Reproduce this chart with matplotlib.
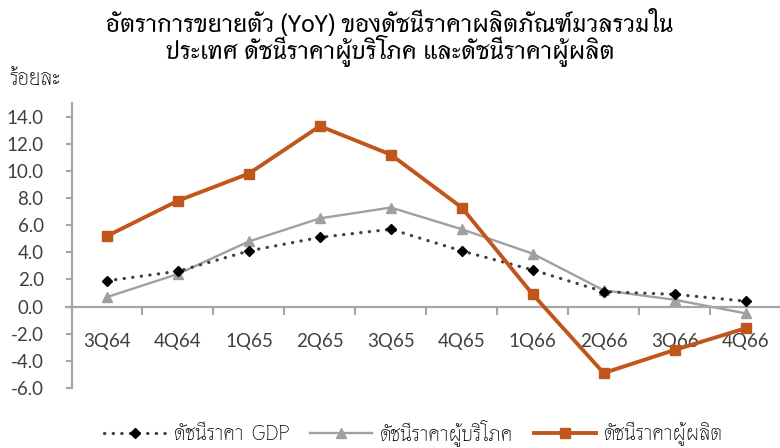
import numpy as np
import matplotlib
matplotlib.use('Agg')
import matplotlib.pyplot as plt

quarters = ['3Q64', '4Q64', '1Q65', '2Q65', '3Q65', '4Q65', '1Q66', '2Q66', '3Q66', '4Q66']
gdp_deflator = [1.9, 2.6, 4.1, 5.1, 5.7, 4.1, 2.7, 1.1, 0.9, 0.4]
cpi = [0.7, 2.4, 4.8, 6.5, 7.3, 5.7, 3.9, 1.2, 0.5, -0.5]
ppi = [5.2, 7.8, 9.8, 13.3, 11.2, 7.3, 0.9, -4.9, -3.2, -1.6]
y_ticks = [-6, -4, -2, 0, 2, 4, 6, 8, 10, 12, 14]

THAI = ['Thasadith', 'DejaVu Sans']
NUM = ['Lato', 'DejaVu Sans']
AXIS_GREY = '#a6a6a6'
TEXT = '#404040'

plt.rcParams['font.family'] = THAI

fig = plt.figure(figsize=(7.8, 4.48), dpi=100)
ax = fig.add_axes([0.0917, 0.134, 0.9096, 0.636])
x = np.arange(len(quarters))

ax.plot(x, gdp_deflator, linestyle=(0, (0.1, 2.6)), color='#404040', linewidth=2.3,
        dash_capstyle='round', marker='D', markersize=5.5, markerfacecolor='black',
        markeredgecolor='black', label='ดัชนีราคา  GDP', zorder=3)
ax.plot(x, cpi, '-', color='#a0a0a0', linewidth=1.7, marker='^', markersize=7,
        label='ดัชนีราคาผู้บริโภค', zorder=2)
ax.plot(x, ppi, '-', color='#c0561b', linewidth=2.8, marker='s', markersize=6.5,
        label='ดัชนีราคาผู้ผลิต', zorder=4)

ax.set_xlim(-0.5, len(quarters) - 0.5)
ax.set_ylim(-6, 15)
ax.set_yticks(y_ticks)
ax.set_yticklabels([f'{v:.1f}' for v in y_ticks])
for lab in ax.get_yticklabels():
    lab.set_family(NUM)
    lab.set_fontsize(13.5)
    lab.set_color(TEXT)
ax.tick_params(axis='y', color=AXIS_GREY, width=1.5, length=4, direction='out', pad=16)

for s in ['top', 'right']:
    ax.spines[s].set_visible(False)
ax.spines['left'].set_color(AXIS_GREY)
ax.spines['left'].set_linewidth(1.6)
ax.spines['bottom'].set_position(('data', 0))
ax.spines['bottom'].set_color(AXIS_GREY)
ax.spines['bottom'].set_linewidth(1.6)
ax.spines['bottom'].set_bounds(-0.58, len(quarters) - 0.5)

ax.set_xticks(x)
ax.set_xticklabels(quarters)
for lab in ax.get_xticklabels():
    lab.set_family(NUM)
    lab.set_fontsize(13.5)
    lab.set_color(TEXT)
ax.set_xticks(np.arange(0.5, len(quarters) - 0.5, 1.0), minor=True)
ax.tick_params(axis='x', which='major', length=0, pad=19)
ax.tick_params(axis='x', which='minor', length=6, width=1.5, color=AXIS_GREY, direction='out')

fig.text(0.5, 0.948, 'อัตราการขยายตัว (YoY) ของดัชนีราคาผลิตภัณฑ์มวลรวมใน',
         ha='center', va='center', fontsize=18.3, fontweight='bold', color='black')
fig.text(0.5, 0.886, 'ประเทศ ดัชนีราคาผู้บริโภค และดัชนีราคาผู้ผลิต',
         ha='center', va='center', fontsize=18.3, fontweight='bold', color='black')
fig.text(0.012, 0.825, 'ร้อยละ', ha='left', va='center', fontsize=16, color='black')

fig.legend(loc='center', bbox_to_anchor=(0.53, 0.035), ncol=3, frameon=False,
           fontsize=15, handlelength=3.0, columnspacing=1.0, handletextpad=0.35,
           labelcolor='black')

fig.savefig('out.png', dpi=100)
